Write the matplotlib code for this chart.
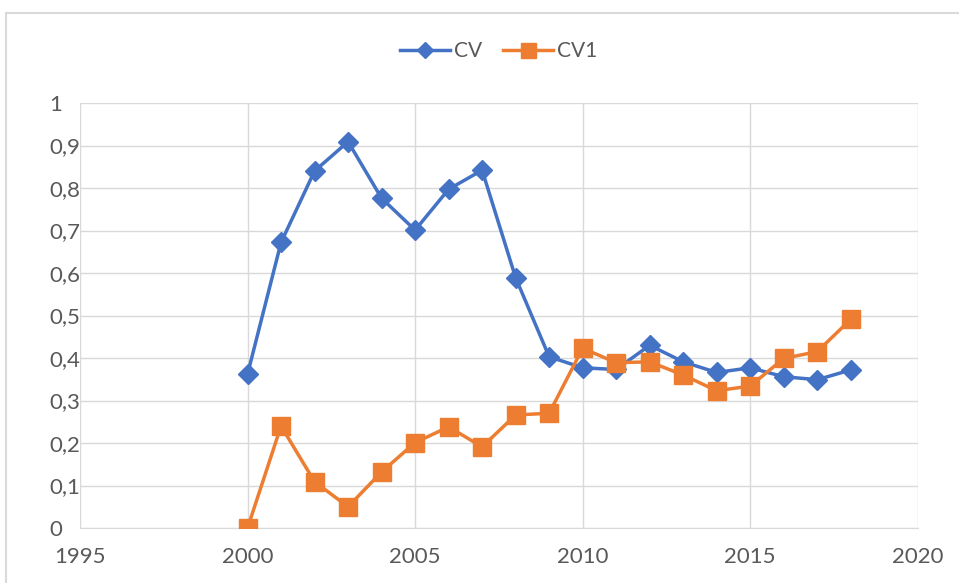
import matplotlib
matplotlib.use("Agg")
import matplotlib.pyplot as plt
from matplotlib.ticker import FuncFormatter, MultipleLocator
from matplotlib.patches import Rectangle

years = [2000, 2001, 2002, 2003, 2004, 2005, 2006, 2007, 2008, 2009,
         2010, 2011, 2012, 2013, 2014, 2015, 2016, 2017, 2018]
cv = [0.362, 0.672, 0.840, 0.909, 0.776, 0.701, 0.797, 0.842, 0.589, 0.403,
      0.377, 0.373, 0.430, 0.391, 0.366, 0.377, 0.356, 0.349, 0.372]
cv1 = [0.0, 0.240, 0.109, 0.050, 0.132, 0.201, 0.238, 0.191, 0.266, 0.270,
       0.423, 0.389, 0.391, 0.360, 0.323, 0.334, 0.399, 0.415, 0.491]

plt.rcParams['font.family'] = ['Lato', 'DejaVu Sans']

fig = plt.figure(figsize=(9.59, 5.83), dpi=100)
ax = fig.add_axes([0.0834, 0.0943, 0.957 - 0.0834, 0.8233 - 0.0943])

blue = '#4472C4'
orange = '#ED7D31'
ax.plot(years, cv, color=blue, lw=2.5, marker='D', ms=10, label='CV', zorder=3)
ax.plot(years, cv1, color=orange, lw=2.5, marker='s', ms=13.5, label='CV1', zorder=3)

ax.set_xlim(1995, 2020)
ax.set_ylim(0, 1)
ax.xaxis.set_major_locator(MultipleLocator(5))
ax.yaxis.set_major_locator(MultipleLocator(0.1))
ax.yaxis.set_major_formatter(FuncFormatter(lambda v, p: ('%g' % round(v, 1)).replace('.', ',')))
ax.grid(True, color='#D9D9D9', lw=1)
ax.set_axisbelow(True)
for s in ['top', 'right', 'left']:
    ax.spines[s].set_visible(False)
ax.spines['bottom'].set_color('#D9D9D9')
ax.tick_params(length=0, labelsize=16, colors='#595959')
ax.tick_params(axis='x', pad=14)
ax.tick_params(axis='y', pad=22)
for lbl in ax.get_yticklabels():
    lbl.set_horizontalalignment('left')

ax.legend(loc='upper center', bbox_to_anchor=(0.5, 1.19), ncol=2, frameon=False,
          fontsize=15, labelcolor='#595959', handlelength=2.4, columnspacing=1.0,
          handletextpad=0.2, markerscale=0.8)

fig.patches.append(Rectangle((6/959, -0.01), 1.0, (583-13)/583 + 0.01,
                             transform=fig.transFigure, fill=False,
                             edgecolor='#D9D9D9', lw=1.5))

fig.savefig('out.png', dpi=100)
